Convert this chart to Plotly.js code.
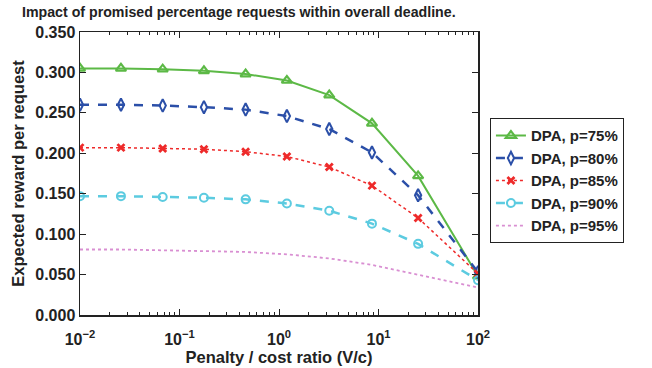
<!DOCTYPE html>
<html>
<head>
<meta charset="utf-8">
<script src="https://cdn.plot.ly/plotly-3.0.1.min.js"></script>
<style>html,body{margin:0;padding:0;background:#fff;}#chart{width:652px;height:368px;}</style>
</head>
<body>
<div id="chart"></div>
<script>
// Data
const ratio = [0.01, 0.0258, 0.0678, 0.176, 0.462, 1.2, 3.2, 8.6, 25, 100];
const p75 = [0.305, 0.305, 0.304, 0.302, 0.298, 0.290, 0.272, 0.237, 0.172, 0.048];
const p80 = [0.260, 0.260, 0.259, 0.257, 0.254, 0.246, 0.230, 0.201, 0.148, 0.053];
const p85 = [0.207, 0.207, 0.206, 0.205, 0.202, 0.196, 0.183, 0.160, 0.120, 0.051];
const p90 = [0.147, 0.147, 0.146, 0.145, 0.143, 0.138, 0.129, 0.113, 0.088, 0.043];
const p95 = [0.081, 0.081, 0.080, 0.079, 0.078, 0.075, 0.070, 0.062, 0.050, 0.034];
const seriesNames = ['DPA, p=75%', 'DPA, p=80%', 'DPA, p=85%', 'DPA, p=90%', 'DPA, p=95%'];
const xTickVals = [0.01, 0.1, 1, 10, 100];
const xTickText = ['10<sup>\u22122</sup>', '10<sup>\u22121</sup>', '10<sup>0</sup>', '10<sup>1</sup>', '10<sup>2</sup>'];

const FONT = 'Liberation Sans, Arial, sans-serif';
const INK = '#222';

const traces = [
  {x: ratio, y: p75, name: seriesNames[0], mode: 'lines+markers',
   line: {color: '#5cb946', width: 2},
   marker: {symbol: 'triangle-up-open', size: 9, color: '#5cb946', line: {width: 2.2, color: '#5cb946'}}},
  {x: ratio, y: p80, name: seriesNames[1], mode: 'lines+markers',
   line: {color: '#2b4fa8', width: 2.5, dash: 'dash'},
   marker: {symbol: 'diamond-tall-open', size: 9, color: '#2b4fa8', line: {width: 2, color: '#2b4fa8'}}},
  {x: ratio, y: p85, name: seriesNames[2], mode: 'lines+markers',
   line: {color: '#ee2a2a', width: 1.5, dash: 'dot'},
   marker: {symbol: 'x-thin-open', size: 7, color: '#ee2a2a', line: {width: 2.8, color: '#ee2a2a'}}},
  {x: ratio, y: p90, name: seriesNames[3], mode: 'lines+markers',
   line: {color: '#5ccbe0', width: 2.5, dash: 'dash'},
   marker: {symbol: 'circle-open', size: 8, color: '#5ccbe0', line: {width: 2, color: '#5ccbe0'}}},
  {x: ratio, y: p95, name: seriesNames[4], mode: 'lines',
   line: {color: '#d98fd2', width: 1.8, dash: 'dot'}}
];

const layout = {
  width: 652, height: 368,
  margin: {l: 80, r: 174, t: 32, b: 53},
  paper_bgcolor: '#fff', plot_bgcolor: '#fff',
  font: {family: FONT, size: 15, color: INK, weight: 'bold'},
  showlegend: true,
  title: {text: 'Impact of promised percentage requests within overall deadline.',
          font: {family: FONT, size: 14.2, color: INK, weight: 'bold'},
          x: 0, xref: 'container', xanchor: 'left', y: 1, yref: 'container', yanchor: 'top',
          pad: {l: 22, t: 7}},
  xaxis: {
    type: 'log', range: [-2, 2],
    tickmode: 'array', tickvals: xTickVals, ticktext: xTickText,
    tickfont: {family: FONT, size: 16, color: INK, weight: 'bold'},
    ticklabelstandoff: 9,
    ticks: 'inside', ticklen: 6, tickwidth: 1, tickcolor: INK,
    minor: {ticks: 'inside', ticklen: 3, tickwidth: 1, tickcolor: INK, dtick: 'D1', showgrid: false},
    showline: true, linecolor: INK, linewidth: 1.5, mirror: 'ticks',
    showgrid: false, zeroline: false,
    title: {text: 'Penalty / cost ratio (V/c)', font: {family: FONT, size: 16.5, color: INK, weight: 'bold'}, standoff: 1}
  },
  yaxis: {
    range: [0, 0.35], dtick: 0.05, tick0: 0, tickformat: '.3f',
    tickfont: {family: FONT, size: 16, color: INK, weight: 'bold'},
    ticks: 'inside', ticklen: 6, tickwidth: 1, tickcolor: INK,
    showline: true, linecolor: INK, linewidth: 1.5, mirror: 'ticks',
    showgrid: false, zeroline: false,
    title: {text: 'Expected reward per request', font: {family: FONT, size: 16.5, color: INK, weight: 'bold'}, standoff: 6}
  },
  legend: {
    x: 1.03, y: 0.695, xanchor: 'left', yanchor: 'top',
    bordercolor: INK, borderwidth: 1, bgcolor: '#fff',
    font: {family: FONT, size: 15, color: INK, weight: 'bold'},
    tracegroupgap: 0
  }
};

Plotly.newPlot('chart', traces, layout, {displayModeBar: false, staticPlot: true});
</script>
</body>
</html>
